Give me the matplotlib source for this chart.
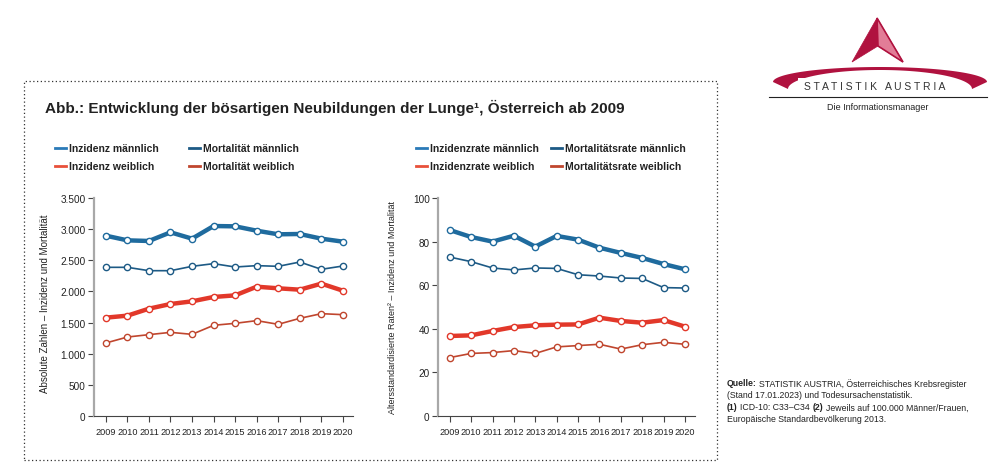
import numpy as np
import matplotlib
matplotlib.use("Agg")
import matplotlib.pyplot as plt
from matplotlib.patches import Polygon, Rectangle
from matplotlib.lines import Line2D

plt.rcParams['font.family'] = ['Liberation Sans', 'DejaVu Sans']

years = np.arange(2009, 2021)

# absolute Zahlen
inz_m = [2895, 2820, 2810, 2949, 2847, 3050, 3045, 2975, 2917, 2922, 2847, 2799]
mort_m = [2387, 2387, 2333, 2333, 2403, 2446, 2392, 2414, 2403, 2472, 2355, 2408]
inz_w = [1579, 1611, 1723, 1798, 1841, 1911, 1937, 2076, 2050, 2028, 2125, 2012]
mort_w = [1172, 1268, 1306, 1343, 1311, 1456, 1488, 1531, 1472, 1568, 1643, 1627]

# altersstandardisierte Raten
rate_inz_m = [85.3, 82.1, 80.0, 82.7, 77.7, 82.6, 80.9, 77.2, 74.8, 72.5, 69.7, 67.3]
rate_mort_m = [72.9, 70.8, 67.9, 67.0, 67.9, 67.7, 64.8, 64.2, 63.3, 63.1, 58.9, 58.7]
rate_inz_w = [36.7, 37.0, 39.0, 40.8, 41.6, 41.9, 42.0, 45.1, 43.6, 42.8, 44.0, 41.0]
rate_mort_w = [26.8, 28.7, 29.1, 30.0, 28.7, 31.7, 32.3, 32.9, 30.7, 32.7, 33.8, 32.9]

c_inz_m = '#1f6b9e'
c_mort_m = '#1d5a85'
c_inz_w = '#e2382a'
c_mort_w = '#c0462e'
txt_col = '#222222'

W, H = 994, 464
fig = plt.figure(figsize=(W / 100, H / 100), dpi=100)
renderer = fig.canvas.get_renderer()


def px_axes(x0, y0, x1, y1):
    return fig.add_axes([x0 / W, 1 - y1 / H, (x1 - x0) / W, (y1 - y0) / H])


def draw_series(ax, data):
    for vals, col, lw in data:
        ax.plot(years, vals, color=col, lw=lw, marker='o', ms=4.5,
                mfc='white', mec=col, mew=1.0, solid_capstyle='round', zorder=3)


def style_axes(ax, ymax, step, fmt, ylabel, ylsize):
    ax.set_xlim(2008.45, 2020.47)
    ax.set_ylim(0, ymax)
    ax.set_xticks(years)
    ticks = np.arange(0, ymax + 1, step)
    ax.set_yticks(ticks)
    ax.set_yticklabels([fmt(v) for v in ticks])
    for s in ['top', 'right']:
        ax.spines[s].set_visible(False)
    ax.spines['left'].set_color('#a8a8a8')
    ax.spines['left'].set_linewidth(1.6)
    ax.spines['bottom'].set_color('#444444')
    ax.spines['bottom'].set_linewidth(0.8)
    ax.tick_params(axis='both', length=4, width=0.8, color='#444444',
                   pad=2, labelcolor=txt_col)
    ax.tick_params(axis='y', labelsize=7.2)
    ax.tick_params(axis='x', labelsize=6.6, pad=4)
    ax.set_ylabel(ylabel, fontsize=ylsize, color=txt_col)


def de_thousands(v):
    return f'{int(v):,}'.replace(',', '.')


ax1 = px_axes(94, 199, 353, 417)
draw_series(ax1, [(inz_m, c_inz_m, 3.2), (mort_m, c_mort_m, 1.2),
                  (inz_w, c_inz_w, 3.2), (mort_w, c_mort_w, 1.2)])
style_axes(ax1, 3500, 500, de_thousands,
           'Absolute Zahlen – Inzidenz und Mortalität', 7.0)
ax1.yaxis.set_label_coords(-0.17, 0.52)

ax2 = px_axes(438, 199, 695, 417)
draw_series(ax2, [(rate_inz_m, c_inz_m, 3.2), (rate_mort_m, c_mort_m, 1.2),
                  (rate_inz_w, c_inz_w, 3.2), (rate_mort_w, c_mort_w, 1.2)])
style_axes(ax2, 100, 20, lambda v: str(int(v)),
           'Altersstandardisierte Raten² – Inzidenz und Mortalität', 6.5)
ax2.yaxis.set_label_coords(-0.16, 0.5)


def legend_block(x1_line, x2_line, col1, col2):
    # zweite Spalte nach rechts schieben, falls die erste zu breit ist
    ends = []
    for i, (lab, col) in enumerate(col1):
        yy = 1 - (149 + i * 18) / H
        fig.add_artist(Line2D([x1_line / W, (x1_line + 11) / W], [yy, yy],
                              color=col, lw=2.0))
        t = fig.text((x1_line + 14) / W, yy, lab, fontsize=7.5,
                     fontweight='bold', va='center', ha='left', color=txt_col)
        ends.append(t.get_window_extent(renderer).x1)
    x2 = max(x2_line, max(ends) + 12)
    for i, (lab, col) in enumerate(col2):
        yy = 1 - (149 + i * 18) / H
        fig.add_artist(Line2D([x2 / W, (x2 + 11) / W], [yy, yy],
                              color=col, lw=2.0))
        fig.text((x2 + 14) / W, yy, lab, fontsize=7.5, fontweight='bold',
                 va='center', ha='left', color=txt_col)


legend_block(55, 189,
             [('Inzidenz männlich', '#2a7ab8'), ('Inzidenz weiblich', '#e8503a')],
             [('Mortalität männlich', c_mort_m), ('Mortalität weiblich', c_mort_w)])
legend_block(416, 550,
             [('Inzidenzrate männlich', '#2a7ab8'), ('Inzidenzrate weiblich', '#e8503a')],
             [('Mortalitätsrate männlich', c_mort_m), ('Mortalitätsrate weiblich', c_mort_w)])

# Titel
fig.text(45 / W, 1 - 108 / H,
         'Abb.: Entwicklung der bösartigen Neubildungen der Lunge¹, Österreich ab 2009',
         fontsize=11, fontweight='bold', va='center', ha='left', color=txt_col)

# gepunkteter Rahmen
fig.add_artist(Rectangle((24 / W, 1 - 461 / H), (717 - 24) / W, (461 - 82) / H,
                         fill=False, ls=(0, (1, 2)), lw=0.9, ec='#333333'))


# Quelle
def seq_text(x, y, parts, size=6.3):
    for s, bold in parts:
        t = fig.text(x / W, 1 - y / H, s, fontsize=size,
                     fontweight='bold' if bold else 'normal',
                     va='center', ha='left', color=txt_col)
        x = t.get_window_extent(renderer).x1 + 2.5


seq_text(727, 384, [('Quelle:', True),
                    ('STATISTIK AUSTRIA, Österreichisches Krebsregister', False)])
seq_text(727, 396, [('(Stand 17.01.2023) und Todesursachenstatistik.', False)])
seq_text(727, 408, [('(1)', True), ('ICD-10: C33–C34', False), ('(2)', True),
                    ('Jeweils auf 100.000 Männer/Frauen,', False)])
seq_text(727, 420, [('Europäische Standardbevölkerung 2013.', False)])

# Logo
logo = fig.add_axes([0, 0, 1, 1], facecolor='none')
logo.set_xlim(0, W)
logo.set_ylim(H, 0)
logo.axis('off')
red = '#b0123f'
logo.add_patch(Polygon([(877, 19), (852, 63), (878, 47), (903, 63)],
                       closed=True, fc=red, ec=red, lw=0.5))
logo.add_patch(Polygon([(877, 19), (878, 47), (903, 63)],
                       closed=True, fc='#e27d97', ec=red, lw=1.2))
t = np.linspace(0, np.pi, 80)
ux = 880 + 107 * np.cos(t)
uy = 83 - 15 * np.sin(t)
lx = 880 + 92 * np.cos(t[::-1])
ly = 90 - 19 * np.sin(t[::-1])
logo.add_patch(Polygon(np.column_stack([np.r_[ux, lx], np.r_[uy, ly]]),
                       closed=True, fc=red, ec='none'))
logo.add_patch(Rectangle((798, 79), 154, 15, fc='white', ec='none'))
logo.text(875, 87, 'S T A T I S T I K   A U S T R I A', fontsize=7.5,
          ha='center', va='center', color='#333333')
logo.plot([769, 987], [98, 98], color='#222222', lw=0.8)
logo.text(878, 108, 'Die Informationsmanager', fontsize=6.5, ha='center',
          va='center', color=txt_col)

fig.savefig('out.png', dpi=100)
